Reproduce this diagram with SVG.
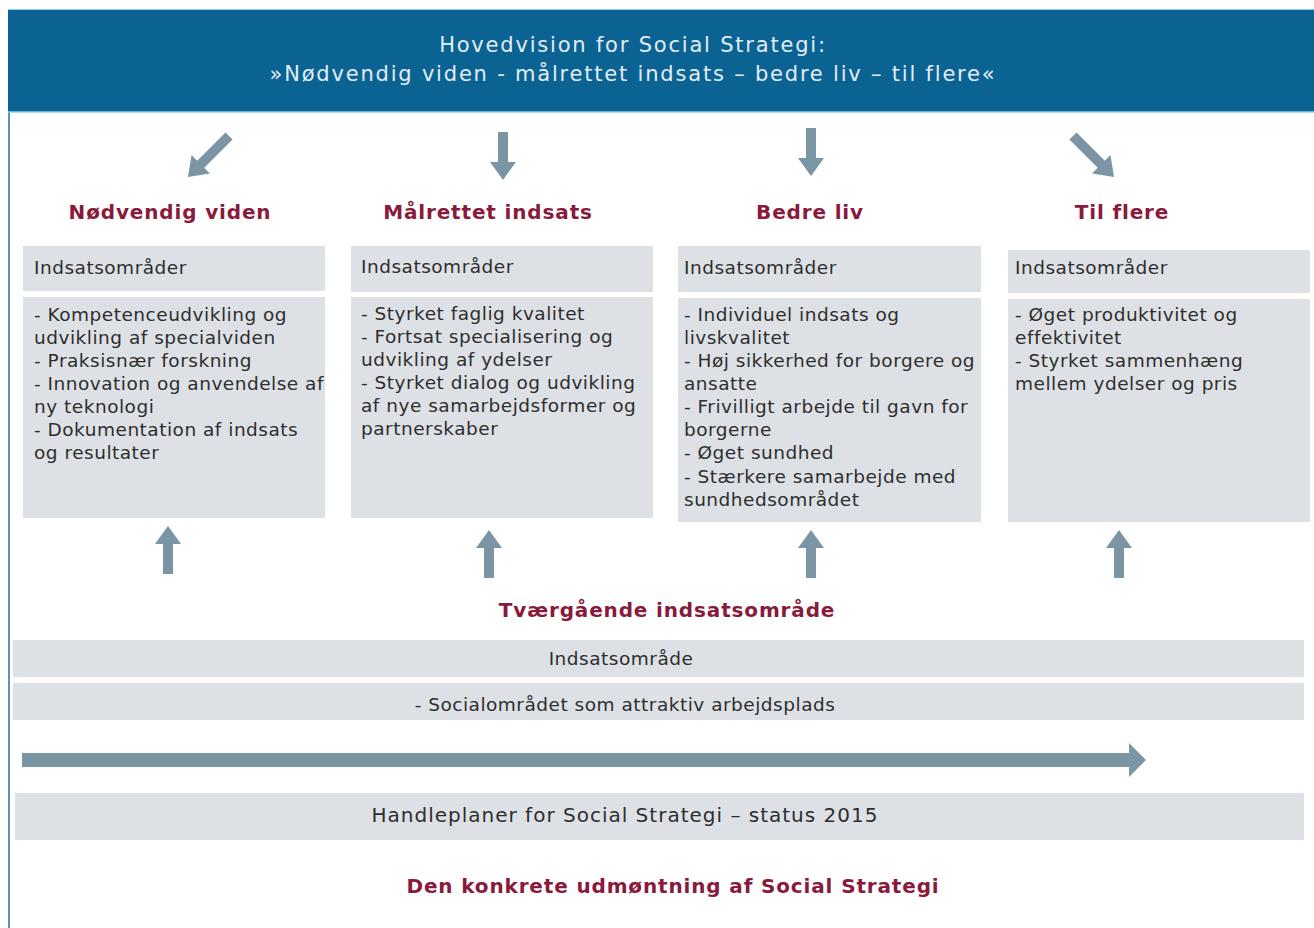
<svg xmlns="http://www.w3.org/2000/svg" width="1314" height="928" viewBox="0 0 1314 928">
<style>
text{font-family:"DejaVu Sans","Verdana",sans-serif;}
.hdr{fill:#e3edf5;font-size:21px;letter-spacing:1.8px;text-anchor:middle;}
.ttl{fill:#8a1a3c;font-size:20px;font-weight:bold;letter-spacing:0.85px;text-anchor:middle;}
.box{fill:#dde1e5;}
.lbl{fill:#2e2e2e;font-size:18.5px;letter-spacing:0.5px;}
.ctr{fill:#2e2e2e;font-size:18.5px;letter-spacing:0.5px;text-anchor:middle;}
.big{font-size:20px;letter-spacing:1px;}
.arr{fill:#7b95a5;}
</style>
<defs>
<path id="arrUp" d="M0,0 L13,18 L5,18 L5,48 L-5,48 L-5,18 L-13,18 Z"/>
<path id="arrDiag" d="M0,0 L13,18 L5,18 L5,58 L-5,58 L-5,18 L-13,18 Z"/>
</defs>
<rect x="0" y="0" width="1314" height="928" fill="#ffffff"/>
<line x1="9" y1="10" x2="9" y2="928" stroke="#5f8fb4" stroke-width="2"/>
<g id="header">
<rect x="8" y="9" width="1306" height="103" fill="#0a6393"/>
<line x1="8" y1="9.5" x2="1314" y2="9.5" stroke="#8fd0ee" stroke-width="1"/>
<line x1="8" y1="112" x2="1314" y2="112" stroke="#8fd0ee" stroke-width="1.5"/>
<text class="hdr" x="633" y="52">Hovedvision for Social Strategi:</text>
<text class="hdr" x="633" y="81">»Nødvendig viden - målrettet indsats – bedre liv – til flere«</text>
</g>
<g id="connectors" class="arr">
<use href="#arrDiag" transform="translate(188,177) rotate(225)"/>
<use href="#arrUp" transform="translate(503,180) rotate(180)"/>
<use href="#arrUp" transform="translate(811,176) rotate(180)"/>
<use href="#arrDiag" transform="translate(1114,177) rotate(135)"/>
<use href="#arrUp" transform="translate(168,526)"/>
<use href="#arrUp" transform="translate(489,530)"/>
<use href="#arrUp" transform="translate(811,530)"/>
<use href="#arrUp" transform="translate(1119,530)"/>
<path d="M22,753 L1129,753 L1129,743 L1146,760 L1129,777 L1129,767 L22,767 Z"/>
</g>
<g id="col1">
<text class="ttl" x="170" y="219">Nødvendig viden</text>
<rect class="box" x="23" y="246" width="302" height="45"/>
<text class="lbl" x="34" y="274">Indsatsområder</text>
<rect class="box" x="23" y="297" width="302" height="221"/>
<text class="lbl" x="34" y="321">- Kompetenceudvikling og</text>
<text class="lbl" x="34" y="344">udvikling af specialviden</text>
<text class="lbl" x="34" y="367">- Praksisnær forskning</text>
<text class="lbl" x="34" y="390">- Innovation og anvendelse af</text>
<text class="lbl" x="34" y="413">ny teknologi</text>
<text class="lbl" x="34" y="436">- Dokumentation af indsats</text>
<text class="lbl" x="34" y="459">og resultater</text>
</g>
<g id="col2">
<text class="ttl" x="488" y="219">Målrettet indsats</text>
<rect class="box" x="351" y="246" width="302" height="46"/>
<text class="lbl" x="361" y="273">Indsatsområder</text>
<rect class="box" x="351" y="297" width="302" height="221"/>
<text class="lbl" x="361" y="320">- Styrket faglig kvalitet</text>
<text class="lbl" x="361" y="343">- Fortsat specialisering og</text>
<text class="lbl" x="361" y="366">udvikling af ydelser</text>
<text class="lbl" x="361" y="389">- Styrket dialog og udvikling</text>
<text class="lbl" x="361" y="412">af nye samarbejdsformer og</text>
<text class="lbl" x="361" y="435">partnerskaber</text>
</g>
<g id="col3">
<text class="ttl" x="810" y="219">Bedre liv</text>
<rect class="box" x="678" y="246" width="303" height="46"/>
<text class="lbl" x="684" y="274">Indsatsområder</text>
<rect class="box" x="678" y="298" width="303" height="224"/>
<text class="lbl" x="684" y="321">- Individuel indsats og</text>
<text class="lbl" x="684" y="344">livskvalitet</text>
<text class="lbl" x="684" y="367">- Høj sikkerhed for borgere og</text>
<text class="lbl" x="684" y="390">ansatte</text>
<text class="lbl" x="684" y="413">- Frivilligt arbejde til gavn for</text>
<text class="lbl" x="684" y="436">borgerne</text>
<text class="lbl" x="684" y="459">- Øget sundhed</text>
<text class="lbl" x="684" y="483">- Stærkere samarbejde med</text>
<text class="lbl" x="684" y="506">sundhedsområdet</text>
</g>
<g id="col4">
<text class="ttl" x="1122" y="219">Til flere</text>
<rect class="box" x="1008" y="250" width="302" height="43"/>
<text class="lbl" x="1015" y="274">Indsatsområder</text>
<rect class="box" x="1008" y="299" width="302" height="223"/>
<text class="lbl" x="1015" y="321">- Øget produktivitet og</text>
<text class="lbl" x="1015" y="344">effektivitet</text>
<text class="lbl" x="1015" y="367">- Styrket sammenhæng</text>
<text class="lbl" x="1015" y="390">mellem ydelser og pris</text>
</g>
<g id="tvaergaende">
<text class="ttl" x="667" y="617">Tværgående indsatsområde</text>
<rect class="box" x="13" y="640" width="1291" height="37"/>
<text class="ctr" x="621" y="665">Indsatsområde</text>
<rect class="box" x="13" y="683" width="1291" height="37"/>
<text class="ctr" x="625" y="711">- Socialområdet som attraktiv arbejdsplads</text>
</g>
<g id="handleplaner">
<rect class="box" x="15" y="793" width="1289" height="47"/>
<text class="ctr big" x="625" y="822">Handleplaner for Social Strategi – status 2015</text>
</g>
<g id="footer">
<text class="ttl" x="673" y="893">Den konkrete udmøntning af Social Strategi</text>
</g>
</svg>
